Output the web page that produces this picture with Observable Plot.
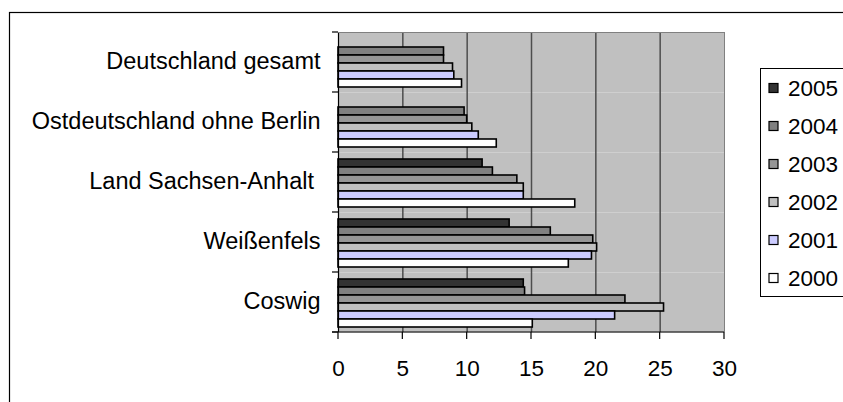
<!DOCTYPE html>
<html>
<head>
<meta charset="utf-8">
<script src="https://cdn.jsdelivr.net/npm/d3@7"></script>
<script src="https://cdn.jsdelivr.net/npm/@observablehq/plot@0.6"></script>
<style>
  body { margin: 0; background: #fff; }
  #chart { position: relative; width: 843px; height: 402px; overflow: hidden; }
  #chart svg { white-space: pre; }
</style>
</head>
<body>
<div id="chart"></div>
<script>
// Regions, top to bottom
const regions = ["Deutschland gesamt", "Ostdeutschland ohne Berlin", "Land Sachsen-Anhalt ", "Weißenfels", "Coswig"];
// Years, in the order they are stacked inside each group and listed in the legend
const years = ["2005", "2004", "2003", "2002", "2001", "2000"];
const yearColors = ["#333333", "#808080", "#969696", "#c0c0c0", "#ccccff", "#ffffff"];

// Unemployment rate (%) per region, one array per year (null = no figure)
const rate2005 = [null, null, 11.2, 13.3, 14.4];
const rate2004 = [8.2, 9.8, 12.0, 16.5, 14.5];
const rate2003 = [8.2, 10.0, 13.9, 19.8, 22.3];
const rate2002 = [8.9, 10.4, 14.4, 20.1, 25.3];
const rate2001 = [9.0, 10.9, 14.4, 19.7, 21.5];
const rate2000 = [9.6, 12.3, 18.4, 17.9, 15.1];

const xTicks = [0, 5, 10, 15, 20, 25, 30];
const gridTicks = [5, 10, 15, 20, 25];

const series = [rate2005, rate2004, rate2003, rate2002, rate2001, rate2000];
const rows = [];
regions.forEach((region, i) => {
  years.forEach((year, j) => {
    const v = series[j][i];
    if (v != null) rows.push({region, year, value: v});
  });
});

const font = "'Liberation Sans', Arial, sans-serif";

const plot = Plot.plot({
  width: 843,
  height: 402,
  marginLeft: 338,
  marginRight: 119,
  marginTop: 31,
  marginBottom: 69,
  style: {fontFamily: font, fontSize: "22.5px", background: "transparent", color: "#000"},
  x: {domain: [0, 30]},
  y: {domain: years, axis: null, paddingInner: 0, paddingOuter: 0.64, align: 0.6},
  fy: {domain: regions, padding: 0},
  color: {domain: years, range: yearColors},
  marks: [
    Plot.frame({fill: "#c0c0c0"}),
    Plot.ruleX(gridTicks, {stroke: "#4d4d4d", strokeWidth: 1.5}),
    Plot.ruleX([30], {stroke: "#808080", strokeWidth: 1}),
    Plot.barX(rows, {x: "value", y: "year", fy: "region", fill: "year", stroke: "#000", strokeWidth: 1.6}),
    Plot.ruleX([0], {stroke: "#000", strokeWidth: 1.2}),
    Plot.axisX({ticks: xTicks, tickSize: 0, tickPadding: 21, dy: 7, tickFormat: d => String(d), label: null, fontSize: 22.5}),
    Plot.axisFy({anchor: "left", tickSize: 0, tickPadding: 18, dy: -1, label: null, fontSize: 23.5})
  ]
});

document.getElementById("chart").appendChild(plot);

// Axis lines, tick marks, plot-area top edge, legend and outer frame
const svg = d3.select(plot);
const xs = plot.scale("x");
const fys = plot.scale("fy");
const cs = plot.scale("color");
const x0 = xs.apply(0), x30 = xs.apply(30);
const areaTop = fys.apply(regions[0]);
const areaBottom = fys.apply(regions[regions.length - 1]) + fys.bandwidth;

const deco = svg.append("g");
// top edge of the plot area
deco.append("line").attr("x1", x0).attr("x2", x30).attr("y1", areaTop + 0.5).attr("y2", areaTop + 0.5)
  .attr("stroke", "#808080");
// category boundary ticks on the left
const bounds = regions.map(r => fys.apply(r)).concat([areaBottom]);
bounds.forEach(b => {
  deco.append("line").attr("x1", x0 - 6).attr("x2", x0).attr("y1", b).attr("y2", b)
    .attr("stroke", "#000").attr("stroke-width", 1.2);
});
// x axis line and ticks
deco.append("line").attr("x1", x0 - 6).attr("x2", x30).attr("y1", areaBottom).attr("y2", areaBottom)
  .attr("stroke", "#000").attr("stroke-width", 1.2);
xTicks.forEach(t => {
  const xp = xs.apply(t);
  deco.append("line").attr("x1", xp).attr("x2", xp).attr("y1", areaBottom).attr("y2", areaBottom + 7)
    .attr("stroke", "#000").attr("stroke-width", 1.2);
});

// legend
const lg = svg.append("g").attr("font-family", font).attr("font-size", 22.5).attr("text-anchor", "start");
lg.append("rect").attr("x", 760.5).attr("y", 68.5).attr("width", 100).attr("height", 228)
  .attr("fill", "#fff").attr("stroke", "#000").attr("stroke-width", 1);
years.forEach((yr, i) => {
  const cy = 88 + i * 38;
  lg.append("rect").attr("x", 769).attr("y", cy - 4.5).attr("width", 9).attr("height", 9)
    .attr("fill", cs.apply(yr)).attr("stroke", "#000").attr("stroke-width", 1.2);
  lg.append("text").attr("x", 788).attr("y", cy).attr("dy", "0.36em").text(yr);
});

// outer chart frame
svg.append("rect").attr("x", 9.5).attr("y", 12.5).attr("width", 900).attr("height", 500)
  .attr("fill", "none").attr("stroke", "#000").attr("stroke-width", 1.2);
</script>
</body>
</html>
